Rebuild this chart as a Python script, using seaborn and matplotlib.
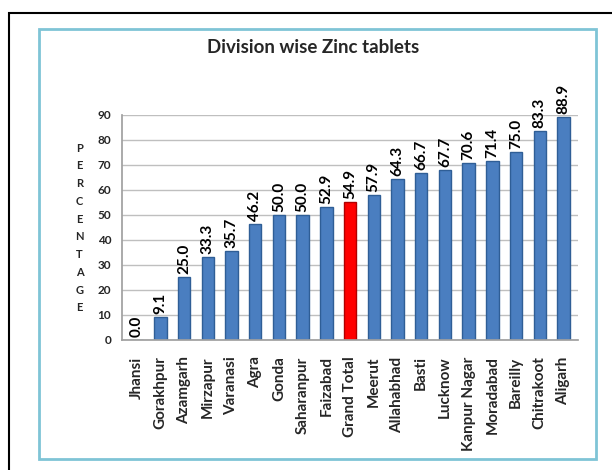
import numpy as np
import pandas as pd
import matplotlib
matplotlib.use("Agg")
import matplotlib.pyplot as plt
import seaborn as sns
from matplotlib.patches import Rectangle

divisions = ["Jhansi", "Gorakhpur", "Azamgarh", "Mirzapur", "Varanasi", "Agra", "Gonda",
             "Saharanpur", "Faizabad", "Grand Total", "Meerut", "Allahabhad", "Basti",
             "Lucknow", "Kanpur Nagar", "Moradabad", "Bareilly", "Chitrakoot", "Aligarh"]
percent = [0.0, 9.1, 25.0, 33.3, 35.7, 46.2, 50.0, 50.0, 52.9, 54.9, 57.9, 64.3, 66.7,
           67.7, 70.6, 71.4, 75.0, 83.3, 88.9]
highlight = "Grand Total"
yticks = list(range(0, 91, 10))

sns.set_theme(style="white")
plt.rcParams["font.family"] = ["Lato", "DejaVu Sans"]

df = pd.DataFrame({"division": divisions, "percent": percent})
colors = ["#FF0000" if d == highlight else "#4A7EC0" for d in divisions]
edges = ["#B00000" if d == highlight else "#2F5E96" for d in divisions]

fig = plt.figure(figsize=(6.12, 4.70), dpi=100)
ax = fig.add_axes([0.2, 0.277, 0.744, 0.479])

sns.barplot(data=df, x="division", y="percent", hue="division", palette=colors,
            legend=False, width=0.52, ax=ax, saturation=1)
for bar, ec in zip(ax.patches, edges):
    bar.set_edgecolor(ec)
    bar.set_linewidth(1.0)

for i, v in enumerate(percent):
    ax.text(i, v + 1.2, f"{v:.1f}", rotation=90, ha="center", va="bottom",
            fontsize=11, fontweight="bold", color="black")

ax.set_ylim(0, 90)
ax.set_xlim(-0.6, len(divisions) - 0.4)
ax.set_xticks(range(len(divisions)), divisions, rotation=90, fontsize=11,
              fontweight="bold")
ax.set_yticks(yticks, [str(t) for t in yticks], fontsize=8.5, fontweight="bold")
ax.yaxis.grid(True, color="#BFBFBF", linewidth=1)
ax.set_axisbelow(True)
for s in ["top", "right"]:
    ax.spines[s].set_visible(False)
ax.spines["left"].set_color("#A0A0A0")
ax.spines["bottom"].set_color("#A0A0A0")
ax.set_xlabel("")
ax.set_ylabel("")
ax.tick_params(axis="x", length=0, pad=12)
ax.tick_params(axis="y", length=0, pad=8)

fig.text(0.13, 0.515, "\n".join("PERCENTAGE"), ha="center", va="center",
         fontsize=8, fontweight="bold", linespacing=1.75)

fig.text(0.512, 0.898, "Division wise Zinc tablets", ha="center", va="center",
         fontsize=13.5, fontweight="bold")

# outer black frame runs off the right and bottom edges
fig.patches.append(Rectangle((9 / 612, -0.1), 1.0, 1 - 13 / 470 + 0.1,
                             transform=fig.transFigure, fill=False,
                             edgecolor="black", linewidth=1.5))
fig.patches.append(Rectangle((39 / 612, 1 - 459 / 470), 557 / 612, 430 / 470,
                             transform=fig.transFigure, fill=False,
                             edgecolor="#7FC4D6", linewidth=2))

fig.savefig("out.png", dpi=100)
